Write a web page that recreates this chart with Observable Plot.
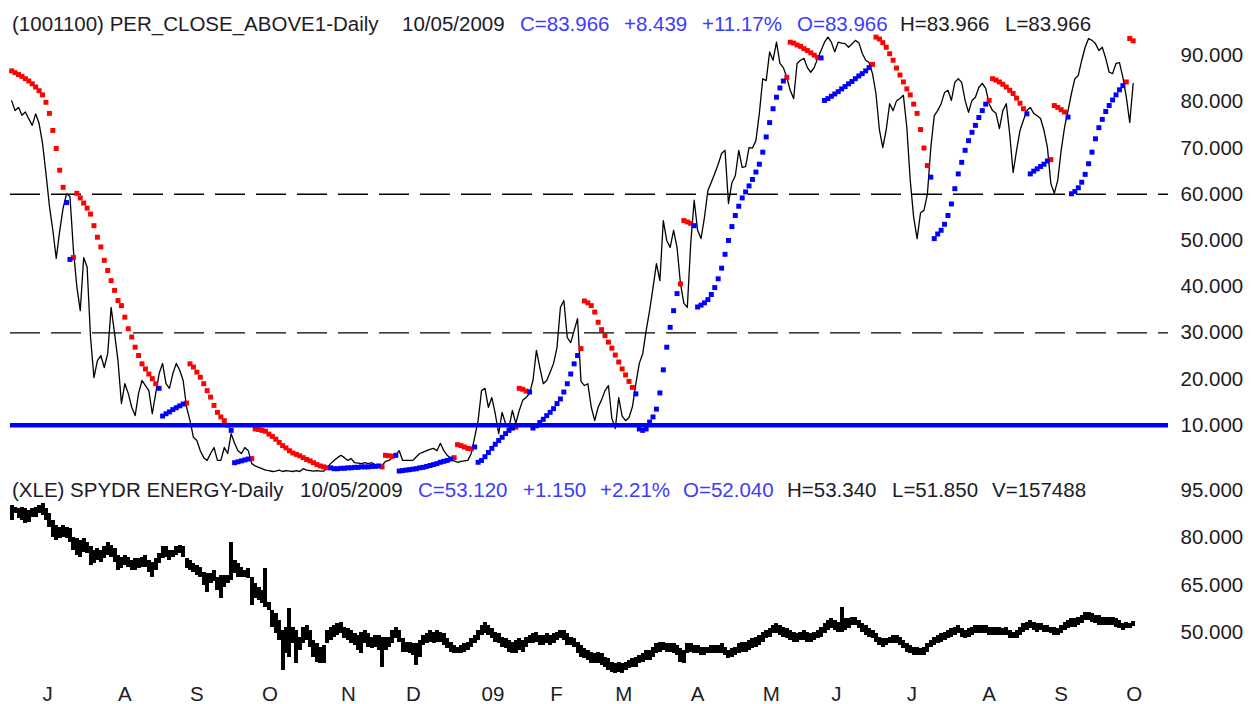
<!DOCTYPE html>
<html><head><meta charset="utf-8">
<script src="https://cdn.jsdelivr.net/npm/d3@7"></script>
<script src="https://cdn.jsdelivr.net/npm/@observablehq/plot@0.6"></script>
<style>
body{margin:0;background:#fff;}
#wrap{position:relative;width:1255px;height:704px;overflow:hidden;font-family:"Liberation Sans",Arial,sans-serif;}
#topPanel,#botPanel{position:absolute;left:0;}
#topPanel{top:0px;} #botPanel{top:480px;}
.t{position:absolute;font-size:20.5px;line-height:20.5px;white-space:nowrap;color:#1c1c28;}
.b{color:#3c3cff;}
</style></head><body>
<div id="wrap"><div id="topPanel"></div><div id="botPanel"></div></div>
<script>
(function(){
// trading-day index: 0 = 2008-06-16; first value is day 2, last is day 329 (2009-10-05)
const firstDay = 2;

const perClose = [
80.2,78.1,78.8,77.1,77.8,76.3,74.9,77.4,75.3,71.0,
64.5,57.5,52.2,46.1,52.0,57.0,60.1,59.5,48.0,40.0,
34.8,46.3,44.2,29.0,20.3,24.0,25.1,22.5,25.5,35.5,
29.9,24.0,14.7,19.0,16.9,13.9,12.1,16.9,19.7,18.6,
17.5,12.5,16.9,21.2,23.4,19.0,18.0,21.2,23.4,21.9,
19.7,13.9,11.0,7.4,6.7,4.5,3.0,2.4,3.9,5.2,
2.4,2.4,5.2,3.9,8.2,6.1,4.5,3.9,5.2,4.5,
1.7,1.2,0.9,0.6,0.3,0.2,0.0,0.1,0.3,0.0,
0.2,0.1,0.0,0.2,0.0,0.6,0.3,0.2,0.1,0.2,
0.1,0.1,0.9,1.7,2.4,3.0,3.5,3.0,2.4,2.8,
1.9,1.8,1.7,1.9,1.7,1.9,1.5,1.3,1.3,2.2,
2.4,3.0,3.5,4.5,2.4,2.4,2.4,2.4,3.2,3.9,
4.2,4.5,4.8,5.0,4.5,6.1,4.5,3.5,2.8,2.3,
2.0,2.2,2.3,2.4,3.9,7.4,11.0,17.5,18.0,13.9,
16.0,12.5,8.2,12.8,10.4,9.5,13.2,10.4,13.2,15.4,
16.0,16.9,19.7,26.2,22.5,19.0,19.7,21.5,23.4,26.8,
35.5,37.0,29.0,27.9,30.5,33.1,19.5,18.6,19.0,13.9,
11.0,13.9,15.5,17.5,18.6,11.5,9.3,16.0,12.0,11.0,
11.7,14.0,19.0,23.4,25.5,30.5,34.8,39.8,45.0,41.3,
54.3,50.0,48.5,52.2,48.5,40.7,36.4,35.5,49.4,58.7,
52.2,50.4,55.0,60.8,62.6,64.5,66.5,68.8,69.5,58.0,
62.5,64.0,69.5,65.8,66.0,70.1,70.0,71.6,77.5,85.0,
84.6,90.8,89.0,92.9,88.3,87.4,85.3,82.5,80.7,88.3,
89.0,89.4,87.4,86.4,87.4,89.4,91.1,92.9,94.0,92.9,
90.8,92.9,92.7,92.6,91.8,92.5,93.3,92.8,90.5,89.0,
88.5,86.1,81.8,74.0,70.1,74.0,79.6,78.1,80.2,80.7,
81.4,74.5,63.0,55.0,50.4,56.0,56.5,60.0,70.1,77.0,
78.1,79.6,82.0,82.5,80.3,84.2,85.0,84.2,80.3,77.7,
80.3,81.0,83.1,84.0,82.9,79.6,78.1,77.5,74.2,78.1,
79.6,73.0,64.7,69.5,73.8,76.0,78.1,78.8,77.5,77.0,
76.4,73.8,70.1,62.3,60.2,63.0,69.5,74.5,78.1,81.8,
85.0,85.7,89.0,91.8,93.7,93.3,92.6,91.1,91.8,89.4,
86.4,86.1,88.3,88.5,85.3,81.0,75.527,83.966];

// parabolic SAR, one value per day
const sarValues = [
86.7,86.3,85.9,85.5,85.0,84.5,83.9,83.2,82.4,81.5,79.9,77.5,73.8,69.9,65.2,61.5,
58.2,45.9,
46.3,60.2,59.2,58.1,57.0,55.7,53.2,50.7,48.6,45.7,43.5,41.3,39.2,37.0,35.9,33.4,30.9,29.1,26.9,25.1,23.3,22.2,21.1,20.1,19.0,
18.0,12.0,12.5,12.9,13.4,13.8,14.2,14.6,
14.8,23.3,22.6,21.5,20.4,19.0,17.5,16.1,14.3,12.8,11.8,11.0,10.0,
8.9,1.9,2.1,2.3,2.5,2.7,
2.8,9.2,9.1,8.9,8.7,8.1,7.6,7.0,6.3,5.6,5.1,4.5,4.0,3.7,3.4,3.0,2.6,2.3,1.9,1.5,1.2,1.0,0.8,
0.8,0.6,0.6,0.7,0.7,0.8,0.8,0.9,0.9,1.0,1.0,1.0,1.1,1.1,1.2,
1.0,3.5,3.4,3.3,
3.5,0.1,0.2,0.3,0.4,0.5,0.6,0.8,0.9,1.1,1.3,1.5,1.7,2.0,2.2,2.4,2.7,
3.0,5.8,5.6,5.3,5.0,4.9,
5.3,2.0,2.4,3.2,4.1,5.0,5.9,6.7,7.4,8.2,8.9,9.4,
9.6,18.0,17.8,17.4,
17.2,9.4,9.9,10.6,11.3,12.1,12.8,13.6,14.7,15.7,17.2,19.0,21.1,23.3,25.1,
26.6,36.9,36.5,35.9,34.5,32.3,30.7,29.4,28.0,26.7,25.2,23.7,22.2,20.9,19.5,18.2,
16.8,9.2,8.9,9.2,10.7,11.8,13.5,17.0,22.0,26.9,31.2,34.8,38.5,
40.6,54.3,54.0,53.7,
53.2,35.6,36.0,36.5,37.2,38.3,39.8,41.7,44.0,47.0,50.0,53.0,55.4,57.4,59.2,60.5,61.8,63.2,64.8,66.5,69.1,72.4,75.5,78.5,81.0,83.0,84.5,
85.3,92.9,92.7,92.3,92.0,91.5,91.1,90.6,90.1,89.6,
89.5,80.3,80.7,81.2,81.7,82.2,82.8,83.3,83.9,84.4,85.0,85.6,86.1,86.7,87.4,
88.1,94.0,93.6,92.8,91.8,90.4,89.0,87.3,85.8,84.3,82.8,81.5,79.5,77.5,74.0,70.0,66.2,
63.7,50.4,51.4,52.2,53.5,55.4,57.9,61.2,64.4,66.9,69.5,71.6,73.4,74.9,76.6,78.1,79.5,
80.3,85.0,84.7,84.3,83.8,83.2,82.5,81.8,80.8,79.7,78.5,
77.4,64.4,65.0,65.5,66.0,66.5,67.2,
67.5,79.2,78.8,78.3,77.8,
76.7,60.1,60.6,61.4,62.6,64.3,66.6,69.1,72.0,74.4,76.2,77.9,79.2,80.4,81.5,82.6,83.5,
84.3,93.7,93.2];
// days on which the SAR flips side (starts above the price, in red)
const sarFlipDays = [18,20,45,53,66,72,95,110,114,131,137,149,153,168,184,197,201,228,238,253,270,287,298,305,310,327];

const xleHigh = [
90.3,89.7,89.2,89.5,89.2,88.7,89.2,89.7,90.3,90.8,
89.2,87.6,85.5,83.9,83.4,83.9,83.4,82.9,80.2,79.7,
79.2,79.7,78.6,77.1,76.0,76.5,76.0,77.1,78.6,77.6,
76.5,74.4,73.9,74.4,73.9,72.8,73.4,73.4,73.9,74.4,
72.8,72.3,73.4,74.9,77.1,77.1,76.0,76.0,77.1,77.6,
77.1,73.4,72.8,71.8,71.2,70.7,69.1,68.6,68.6,69.7,
67.5,68.1,68.1,68.1,78.6,72.8,71.8,70.7,69.7,70.2,
67.5,65.4,64.4,63.3,70.2,59.6,57.0,55.9,53.8,50.6,
51.7,57.5,51.7,50.6,48.5,51.7,52.2,50.6,47.5,46.4,
45.3,45.9,50.6,51.7,52.2,52.7,53.3,51.7,51.2,50.6,
49.6,49.0,50.1,50.6,49.6,48.5,49.0,49.0,48.5,48.5,
48.5,50.6,51.7,50.6,48.0,46.9,46.9,46.4,46.4,47.5,
49.0,49.6,50.6,50.1,50.6,50.1,49.6,48.0,46.9,45.9,
45.3,45.9,46.4,46.9,48.0,49.0,50.6,52.2,53.3,52.2,
51.2,50.1,49.6,48.5,48.0,47.5,46.9,47.5,48.0,47.5,
48.5,49.0,49.6,50.1,49.0,49.0,49.6,49.0,49.6,50.1,
50.6,50.6,49.6,48.5,48.0,46.9,45.9,44.8,44.3,43.8,
43.2,43.8,43.2,42.2,41.6,40.6,40.1,40.6,40.1,40.6,
41.1,41.6,42.2,42.7,43.2,44.3,44.3,45.3,46.4,46.9,
46.9,46.4,46.4,46.4,45.9,44.8,44.3,46.4,46.4,45.9,
45.9,45.3,45.3,45.3,45.9,45.9,45.9,46.4,45.3,44.3,
44.8,45.3,46.4,46.9,46.9,47.5,48.0,48.5,49.0,50.1,
50.6,51.2,52.2,52.7,52.2,51.7,51.2,50.6,50.1,49.6,
50.1,50.6,50.1,49.6,50.1,50.6,51.7,52.7,53.8,54.3,
53.8,53.3,58.0,54.3,54.3,54.9,54.9,53.8,52.7,52.2,
51.2,50.6,49.6,48.5,48.0,48.0,48.5,49.0,49.0,48.5,
47.5,46.4,45.9,45.3,45.3,44.8,45.3,46.4,47.5,48.5,
49.0,49.6,50.1,50.6,51.2,51.7,52.2,51.2,50.6,51.2,
51.7,52.2,52.2,52.2,52.2,51.7,51.7,51.7,51.7,51.2,
51.7,50.6,50.1,50.6,51.7,52.7,53.3,53.8,53.3,52.7,
52.7,52.2,52.2,51.7,51.7,51.2,52.2,53.3,53.8,54.3,
54.3,54.9,55.4,56.4,56.4,55.9,55.4,55.4,54.9,54.9,
54.9,54.9,54.3,53.8,52.7,53.3,52.9,53.34];
const xleLow = [
85.5,87.6,86.0,85.5,84.5,85.0,86.6,86.6,87.6,87.1,
85.5,83.4,80.2,79.2,79.7,80.2,79.7,78.6,76.0,74.4,
73.9,75.5,74.9,71.2,71.8,72.8,72.3,73.4,74.4,73.9,
72.3,69.7,70.2,71.2,70.7,69.7,69.7,70.2,70.7,70.7,
69.1,67.5,69.7,71.8,73.4,73.9,72.8,73.9,74.4,74.9,
73.9,70.2,69.7,69.1,68.1,67.5,64.9,62.8,65.4,66.0,
63.3,60.7,64.4,65.4,66.5,68.6,67.5,67.5,67.5,67.0,
58.6,60.7,60.1,59.1,58.0,57.0,51.7,49.6,47.5,37.9,
43.2,42.2,46.4,40.1,44.3,46.4,47.5,45.3,42.2,40.6,
40.1,40.1,46.4,47.5,48.5,49.0,49.6,48.0,47.5,46.4,
45.9,44.3,43.2,46.4,45.3,44.8,45.3,44.3,39.0,44.3,
45.3,46.4,48.0,46.9,43.8,43.8,43.2,42.7,39.5,42.2,
45.9,46.4,46.9,46.4,46.9,46.9,45.9,44.8,43.8,43.2,
43.2,43.2,43.8,44.3,45.3,46.4,47.5,49.0,49.6,49.0,
48.0,46.9,46.4,45.3,44.8,43.8,43.2,43.2,44.3,43.8,
45.3,46.4,46.4,46.9,45.9,45.9,46.4,45.9,46.4,47.5,
48.0,47.5,45.9,45.9,45.3,43.2,42.2,41.6,41.1,40.1,
40.1,40.1,39.5,39.0,37.9,37.4,36.9,37.4,36.9,37.9,
38.5,39.0,39.0,40.1,40.6,41.1,41.1,42.2,43.2,43.8,
44.3,43.8,43.8,43.2,42.7,40.6,40.1,43.2,43.8,43.2,
43.2,42.7,42.7,43.2,43.2,43.2,43.2,43.2,42.7,41.6,
42.2,42.7,43.2,43.8,43.8,44.3,44.8,45.3,45.9,46.9,
48.0,48.5,49.6,49.6,49.0,48.5,48.0,47.5,46.9,46.9,
47.5,47.5,46.9,46.9,47.5,48.0,48.5,49.6,50.6,51.2,
50.6,50.1,50.1,50.6,51.2,52.2,52.2,51.2,50.1,49.0,
48.5,48.0,46.9,45.9,45.3,45.9,46.4,46.4,46.4,45.9,
44.8,43.8,43.2,42.7,42.7,42.7,42.7,43.8,45.3,45.9,
46.4,46.9,47.5,48.0,48.5,49.0,49.6,48.5,48.0,48.5,
49.0,49.6,49.6,49.6,49.6,49.0,49.0,49.0,49.0,49.0,
49.0,48.0,48.0,48.0,49.0,50.1,50.6,51.2,50.6,50.1,
50.6,50.1,50.1,49.6,49.0,49.0,49.6,50.6,51.2,51.7,
51.7,52.2,52.7,53.8,53.8,53.3,52.7,52.2,52.2,52.2,
52.2,52.2,51.7,51.2,50.6,51.2,51.4,51.85];

// first trading day of each month and its label
const monthTicks = [11,33,54,75,98,117,139,159,178,200,221,241,263,285,306,327];
const monthLabels = ["J","A","S","O","N","D","09","F","M","A","M","J","J","A","S","O"];
const topTicks = [10,20,30,40,50,60,70,80,90];
const botTicks = [50,65,80,95];
const dashedLevels = [30,60];
const blueLevel = [10];

const topTitle = [["(1001100) PER_CLOSE_ABOVE1-Daily",12,0],["10/05/2009",402,0],["C=83.966",520,1],["+8.439",624,1],["+11.17%",702,1],["O=83.966",797,1],["H=83.966",900,0],["L=83.966",1005,0]];
const botTitle = [["(XLE) SPYDR ENERGY-Daily",12,0],["10/05/2009",300,0],["C=53.120",418,1],["+1.150",523,1],["+2.21%",600,1],["O=52.040",683,1],["H=53.340",787,0],["L=51.850",892,0],["V=157488",992,0]];

const n = perClose.length;
if (sarValues.length !== n || xleHigh.length !== n || xleLow.length !== n)
  throw new Error(`length mismatch ${n} ${sarValues.length} ${xleHigh.length} ${xleLow.length}`);

const perRows = perClose.map((v, k) => ({day: firstDay + k, v}));
const sarRows = sarValues.map((v, k) => {
  const day = firstDay + k;
  const flips = sarFlipDays.filter(f => f <= day).length;
  return {day, v, above: flips % 2 === 0};
});
const xleRows = xleHigh.map((h, k) => ({day: firstDay + k, hi: h, lo: xleLow[k]}));

const font = "Liberation Sans, Arial, sans-serif";
const xDomain = [1.66, 339.3];
const fmt = d3.format(".3f");

const topChart = Plot.plot({
  width: 1255, height: 480,
  marginLeft: 10, marginRight: 87, marginTop: 32, marginBottom: 9,
  x: {domain: xDomain, axis: null},
  y: {domain: [0, 95]},
  style: {fontFamily: font, color: "#1c1c28", background: "transparent", overflow: "visible"},
  marks: [
    Plot.ruleY(dashedLevels, {stroke: "#000", strokeWidth: 1.3, strokeDasharray: "30,11"}),
    Plot.lineY(perRows, {x: "day", y: "v", stroke: "#000", strokeWidth: 1.3}),
    Plot.dot(sarRows.filter(d => d.above), {x: "day", y: "v", symbol: "square", r: 2.8, fill: "#ff0000", stroke: "none"}),
    Plot.dot(sarRows.filter(d => !d.above), {x: "day", y: "v", symbol: "square", r: 2.8, fill: "#0000ff", stroke: "none"}),
    Plot.ruleY(blueLevel, {stroke: "#0000ff", strokeWidth: 4.5}),
    Plot.axisY({ticks: topTicks, anchor: "right", tickSize: 0, tickPadding: 12, tickFormat: fmt, fontSize: 20.5, label: null})
  ]
});
document.getElementById("topPanel").appendChild(topChart);

const botChart = Plot.plot({
  width: 1255, height: 224,
  marginLeft: 10, marginRight: 87, marginTop: 10, marginBottom: 24.7,
  x: {domain: xDomain},
  y: {domain: [35, 95]},
  style: {fontFamily: font, color: "#1c1c28", background: "transparent", overflow: "visible"},
  marks: [
    Plot.ruleX(xleRows, {x: "day", y1: "lo", y2: "hi", stroke: "#000", strokeWidth: 4, shapeRendering: "crispEdges"}),
    Plot.axisY({ticks: botTicks, anchor: "right", tickSize: 0, tickPadding: 12, tickFormat: fmt, fontSize: 20.5, label: null}),
    Plot.axisX({ticks: monthTicks, anchor: "bottom", tickSize: 0, tickPadding: 7, textAnchor: "start",
      tickFormat: d => monthLabels[monthTicks.indexOf(d)], fontSize: 20.5, label: null})
  ]
});
document.getElementById("botPanel").appendChild(botChart);

const wrap = document.getElementById("wrap");
function addTitle(parts, topPx) {
  for (const [txt, left, blue] of parts) {
    const s = document.createElement("div");
    s.className = "t" + (blue ? " b" : "");
    s.style.left = left + "px";
    s.style.top = topPx + "px";
    s.textContent = txt;
    wrap.appendChild(s);
  }
}
addTitle(topTitle, 13.5);
addTitle(botTitle, 479.5);
})();
</script>
</body></html>
